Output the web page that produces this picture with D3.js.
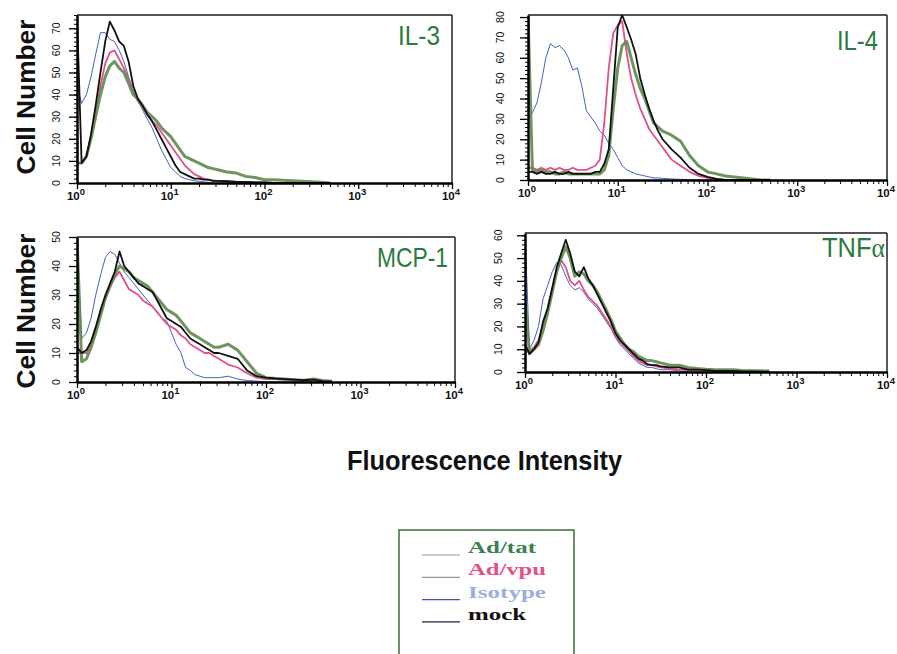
<!DOCTYPE html>
<html><head><meta charset="utf-8">
<script src="https://cdn.jsdelivr.net/npm/d3@7"></script>
<style>body{margin:0;background:#fff} svg{display:block}</style>
</head><body>
<svg id="chart" width="897" height="654"></svg>
<script>
// ---------- DATA ----------
const fluorescence = [1, 1.12, 1.26, 1.41, 1.58, 1.78, 2.0, 2.24, 2.51, 2.82,
  3.16, 3.55, 3.98, 4.47, 5.01, 5.62, 6.31, 7.08, 7.94, 8.91, 10,
  11.2, 12.6, 14.1, 15.8, 17.8, 20, 22.4, 25.1, 28.2, 31.6,
  39.8, 50.1, 63.1, 79.4, 100, 126, 158, 200, 251, 316, 398, 501];

const seriesNames = ["Ad/tat", "Ad/vpu", "Isotype", "mock"];

// IL-3
const il3Tat  = [9, 9, 12, 20, 30, 40, 48, 53, 55, 52, 50, 45, 40, 38, 35, 32, 30, 28, 25, 23, 21, 18, 15, 12, 11, 10, 9, 8, 7, 6.5, 6, 5, 4.5, 3, 2.5, 1.5, 1.5, 1.2, 1, 0.8, 0.6, 0.3, 0];
const il3Vpu  = [9, 9, 12, 21, 32, 44, 54, 59, 60, 56, 52, 47, 41, 37, 34, 31, 28, 26, 23, 20, 17, 14, 11, 8, 6, 4, 3, 2, 1.5, 1.2, 1, 0.8, 0.6, 0.5, 0.4, 0.3, 0, 0, 0, 0, 0, 0, 0];
const il3Iso  = [44, 36, 40, 48, 58, 68, 68, 65, 64, 60, 55, 48, 42, 37, 33, 29, 25, 20, 15, 11, 7, 5, 3, 2, 1.5, 1, 0.8, 0.5, 0.3, 0, 0, 0, 0, 0, 0, 0, 0, 0, 0, 0, 0, 0, 0];
const il3Mock = [76, 9, 12, 22, 35, 50, 64, 73, 69, 64, 62, 55, 44, 38, 35, 31, 28, 24, 20, 16, 12, 8, 5, 4, 3, 2, 2, 1.5, 1.5, 1, 1, 0.8, 0.5, 0.5, 0.3, 0.3, 0, 0, 0, 0, 0, 0, 0];

// IL-4
const il4Tat  = [81, 5, 4, 5, 4, 4, 3, 3, 4, 3, 3, 3, 3, 3, 3, 3, 3, 5, 12, 35, 55, 66, 68, 60, 52, 45, 40, 34, 28, 26, 24, 22, 19, 12, 7, 4, 3, 2, 1.5, 1, 0.5, 0, 0];
const il4Vpu  = [6, 6, 5, 6, 5, 6, 5, 6, 5, 5, 6, 5, 5, 5, 6, 7, 10, 28, 55, 72, 76, 78, 62, 50, 42, 35, 30, 25, 22, 19, 16, 10, 7, 4, 2, 1, 0.5, 0, 0, 0, 0, 0, 0];
const il4Iso  = [30, 33, 38, 48, 60, 67, 65, 66, 64, 60, 54, 55, 46, 34, 31, 28, 24, 22, 18, 15, 11, 7, 5, 4, 3, 2.5, 2, 1.5, 1, 1, 0.8, 0.5, 0.3, 0.2, 0, 0, 0, 0, 0, 0, 0, 0, 0];
const il4Mock = [4, 4, 3, 4, 3, 3, 4, 3, 3, 4, 3, 3, 3, 3, 3, 4, 4, 8, 15, 45, 75, 81, 75, 69, 62, 50, 42, 35, 29, 24, 20, 15, 11, 6, 3, 1.5, 0.5, 0, 0, 0, 0, 0, 0];

// MCP-1
const mcpTat  = [50, 7, 8, 12, 17, 23, 29, 33, 37, 40, 39, 38, 36, 35, 34, 33, 31, 29, 27, 25, 24, 23, 21, 19, 17, 16, 15, 14, 13, 12, 12, 13, 11, 7, 3, 1.5, 1.2, 1, 0.8, 0.6, 1, 0.5, 0.3];
const mcpVpu  = [10, 10, 10, 13, 18, 24, 29, 33, 36, 38, 35, 32, 31, 30, 28, 27, 26, 24, 22, 20, 19, 18, 16, 15, 13, 12, 11, 10, 10, 9, 8, 6, 5, 3, 1.5, 1, 1, 0.8, 0.5, 0.3, 0, 0, 0];
const mcpIso  = [50, 15, 17, 22, 30, 37, 43, 45, 44, 41, 38, 36, 34, 32, 30, 28, 26, 24, 22, 21, 17, 13, 10, 5, 4, 2.5, 2, 1.5, 1.5, 1.5, 1.5, 2, 1, 0.5, 0.3, 0, 0, 0, 0, 0, 0, 0, 0];
const mcpMock = [12, 10, 11, 14, 19, 25, 30, 34, 38, 45, 40, 38, 36, 34, 33, 32, 31, 28, 25, 22, 21, 20, 19, 17, 15, 14, 13, 12, 11, 10, 10, 9, 8, 4, 2, 1.5, 1.2, 1, 0.8, 0.6, 0.8, 0.3, 0.2];

// TNFα
const tnfTat  = [33, 8, 10, 12, 18, 26, 35, 44, 50, 55, 50, 42, 44, 43, 40, 38, 35, 31, 27, 23, 18, 15, 12, 10, 9, 7, 6, 5, 5, 4.5, 4, 3, 3, 2, 1.5, 1.2, 1, 1, 1, 0.7, 0.5, 0.5, 0.4];
const tnfVpu  = [9, 9, 11, 14, 20, 28, 36, 44, 49, 46, 40, 38, 40, 36, 33, 31, 29, 26, 23, 20, 16, 13, 11, 9, 7, 5, 4, 3, 3, 2.5, 2, 1.5, 1, 0.8, 0.5, 0.3, 0, 0, 0, 0, 0, 0, 0];
const tnfIso  = [61, 10, 14, 20, 32, 38, 44, 48, 47, 42, 38, 36, 37, 35, 32, 30, 28, 25, 22, 19, 15, 12, 10, 8, 6, 4, 3, 2, 2, 1.5, 1, 1, 0.5, 0, 0, 0, 0, 0, 0, 0, 0, 0, 0];
const tnfMock = [12, 8, 10, 13, 22, 28, 37, 46, 52, 58, 52, 44, 42, 46, 41, 38, 34, 30, 26, 22, 17, 14, 12, 10, 8, 6, 5, 3.5, 3, 3, 2.5, 2, 2, 1, 1, 0.8, 0.5, 0.5, 0.5, 0.3, 0.3, 0.2, 0.2];

const panelTitles = ["IL-3", "IL-4", "MCP-1", "TNF"];
const titleSuffix = ["", "", "", "α"];
const panelYMax = [76, 81, 50, 61];
const panelYTicks = [
  [0, 10, 20, 30, 40, 50, 60, 70],
  [0, 10, 20, 30, 40, 50, 60, 70, 80],
  [0, 10, 20, 30, 40, 50],
  [0, 10, 20, 30, 40, 50, 60]
];
const decadeExponents = [0, 1, 2, 3, 4];

// ---------- STYLE / LAYOUT ----------
const panelSeries = [
  [il3Tat, il3Vpu, il3Iso, il3Mock],
  [il4Tat, il4Vpu, il4Iso, il4Mock],
  [mcpTat, mcpVpu, mcpIso, mcpMock],
  [tnfTat, tnfVpu, tnfIso, tnfMock]
];
const lineColor = ["#5f8a4e", "#e2508a", "#3f63c2", "#111111"];
const lineWidth = [3, 1.8, 1, 1.8];
const drawOrder = [2, 1, 0, 3];

const layout = [
  {l: 77,  r: 452, t: 15,  b: 183, lab: 21, tx: 398, ty: 45,  tw: 42},
  {l: 528, r: 887, t: 15,  b: 180, lab: 28, tx: 837, ty: 50,  tw: 41},
  {l: 77,  r: 455, t: 237, b: 382, lab: 21, tx: 377, ty: 267, tw: 71},
  {l: 525, r: 887, t: 233, b: 372, lab: 27, tx: 822, ty: 257, tw: 63}
];

const svg = d3.select("#chart");
svg.append("rect").attr("width", 897).attr("height", 654).attr("fill", "#fff");
const defs = svg.append("defs");

layout.forEach((p, i) => {
  const x = d3.scaleLog().domain([1, 1e4]).range([p.l, p.r]);
  const y = d3.scaleLinear().domain([0, panelYMax[i]]).range([p.b, p.t]);
  const g = svg.append("g");

  defs.append("clipPath").attr("id", "clip" + i)
    .append("rect").attr("x", p.l).attr("y", p.t).attr("width", p.r - p.l).attr("height", p.b - p.t);

  // frame (top & right)
  g.append("line").attr("x1", p.l).attr("x2", p.r).attr("y1", p.t).attr("y2", p.t)
    .attr("stroke", "#555").attr("stroke-width", 2);
  g.append("line").attr("x1", p.r).attr("x2", p.r).attr("y1", p.t).attr("y2", p.b)
    .attr("stroke", "#222").attr("stroke-width", 1.5);

  // series
  const line = d3.line().x((d, k) => x(fluorescence[k])).y(d => y(d));
  const lg = g.append("g").attr("clip-path", `url(#clip${i})`);
  drawOrder.forEach(s => {
    lg.append("path").datum(panelSeries[i][s])
      .attr("d", line).attr("fill", "none")
      .attr("stroke", lineColor[s]).attr("stroke-width", lineWidth[s])
      .attr("stroke-linejoin", "round").attr("opacity", s === 0 ? 0.9 : 1);
  });

  // y axis
  const minorY = d3.range(0, panelYMax[i] + 0.01, 2);
  g.append("g").attr("transform", `translate(${p.l},0)`)
    .call(d3.axisLeft(y).tickValues(minorY).tickSize(3).tickFormat(""))
    .call(a => a.select(".domain").remove());
  const ya = g.append("g").attr("transform", `translate(${p.l},0)`)
    .call(d3.axisLeft(y).tickValues(panelYTicks[i]).tickSize(8).tickSizeOuter(0).tickFormat(""));
  ya.select(".domain").attr("stroke-width", 2.5);
  ya.selectAll(".tick line").attr("stroke-width", 1.3);
  panelYTicks[i].forEach(v => {
    const px = p.l - p.lab, py = y(v);
    g.append("text").attr("x", px).attr("y", py)
      .attr("transform", `rotate(-90,${px},${py})`)
      .attr("text-anchor", "middle").attr("dominant-baseline", "central")
      .attr("font-family", "'Liberation Sans Narrow', 'Liberation Sans', sans-serif")
      .attr("font-size", 10.5).attr("fill", "#111").text(v);
  });

  // x axis
  const minorX = [];
  for (let e = 0; e < 4; e++) for (let m = 2; m <= 9; m++) minorX.push(m * Math.pow(10, e));
  g.append("g").attr("transform", `translate(0,${p.b})`)
    .call(d3.axisBottom(x).tickValues(minorX).tickSize(4).tickFormat(""))
    .call(a => a.select(".domain").remove());
  const xa = g.append("g").attr("transform", `translate(0,${p.b})`)
    .call(d3.axisBottom(x).tickValues(decadeExponents.map(e => Math.pow(10, e))).tickSize(6).tickSizeOuter(0).tickFormat(""));
  xa.select(".domain").attr("stroke-width", 2.5);
  xa.selectAll(".tick line").attr("stroke-width", 1.3);
  decadeExponents.forEach(e => {
    const t = g.append("text").attr("x", x(Math.pow(10, e)) - 1).attr("y", p.b + 17)
      .attr("text-anchor", "middle")
      .attr("font-family", "'Liberation Sans', Arial, sans-serif")
      .attr("font-weight", "bold").attr("font-size", 11.5).attr("fill", "#111");
    t.append("tspan").text("10");
    t.append("tspan").attr("dy", -5).attr("font-size", 9.5).text(e);
  });

  // title: one text element, horizontally scaled to the measured width
  const tg = g.append("g");
  const tt = tg.append("text").attr("x", 0).attr("y", 0)
    .attr("font-family", "'Liberation Sans', Arial, sans-serif")
    .attr("font-size", 27).attr("fill", "#2b7a3e");
  tt.append("tspan").text(panelTitles[i]);
  if (titleSuffix[i]) tt.append("tspan").attr("font-family", "'Liberation Serif', serif").text(titleSuffix[i]);
  const natural = tt.node().getComputedTextLength() || p.tw;
  tg.attr("transform", `translate(${p.tx},${p.ty}) scale(${p.tw / natural},1)`);
});

// y labels
[97, 311].forEach(cy => {
  svg.append("text").attr("x", 35).attr("y", cy)
    .attr("transform", `rotate(-90,35,${cy})`)
    .attr("text-anchor", "middle")
    .attr("font-family", "'Liberation Sans', Arial, sans-serif")
    .attr("font-weight", "bold").attr("font-size", 25).attr("fill", "#111")
    .attr("textLength", 155).attr("lengthAdjust", "spacingAndGlyphs")
    .text("Cell Number");
});

// x label
svg.append("text").attr("x", 347).attr("y", 470)
  .attr("font-family", "'Liberation Sans Narrow', 'Liberation Sans', Arial, sans-serif")
  .attr("font-weight", "bold").attr("font-size", 27).attr("fill", "#111")
  .attr("textLength", 275).attr("lengthAdjust", "spacingAndGlyphs")
  .text("Fluorescence Intensity");

// legend
const legTextColor = ["#3c8050", "#e2508a", "#9ab0dc", "#111"];
const legLineColor = ["#b4bcae", "#8e9c86", "#4556a8", "#1b2142"];
const legTextW = [68, 78, 78, 58];
const leg = svg.append("g");
leg.append("rect").attr("x", 399).attr("y", 530).attr("width", 175).attr("height", 140)
  .attr("fill", "#fff").attr("stroke", "#3c6a40").attr("stroke-width", 1.5);
seriesNames.forEach((n, k) => {
  const yy = 553 + k * 22.3;
  leg.append("line").attr("x1", 422).attr("x2", 460).attr("y1", yy + 2).attr("y2", yy + 2)
    .attr("stroke", legLineColor[k]).attr("stroke-width", 1.3);
  leg.append("text").attr("x", 468).attr("y", yy)
    .attr("font-family", "'Liberation Serif', 'Times New Roman', serif")
    .attr("font-weight", "bold").attr("font-size", 16).attr("fill", legTextColor[k])
    .attr("textLength", legTextW[k]).attr("lengthAdjust", "spacingAndGlyphs")
    .text(n);
});
</script>
</body></html>
